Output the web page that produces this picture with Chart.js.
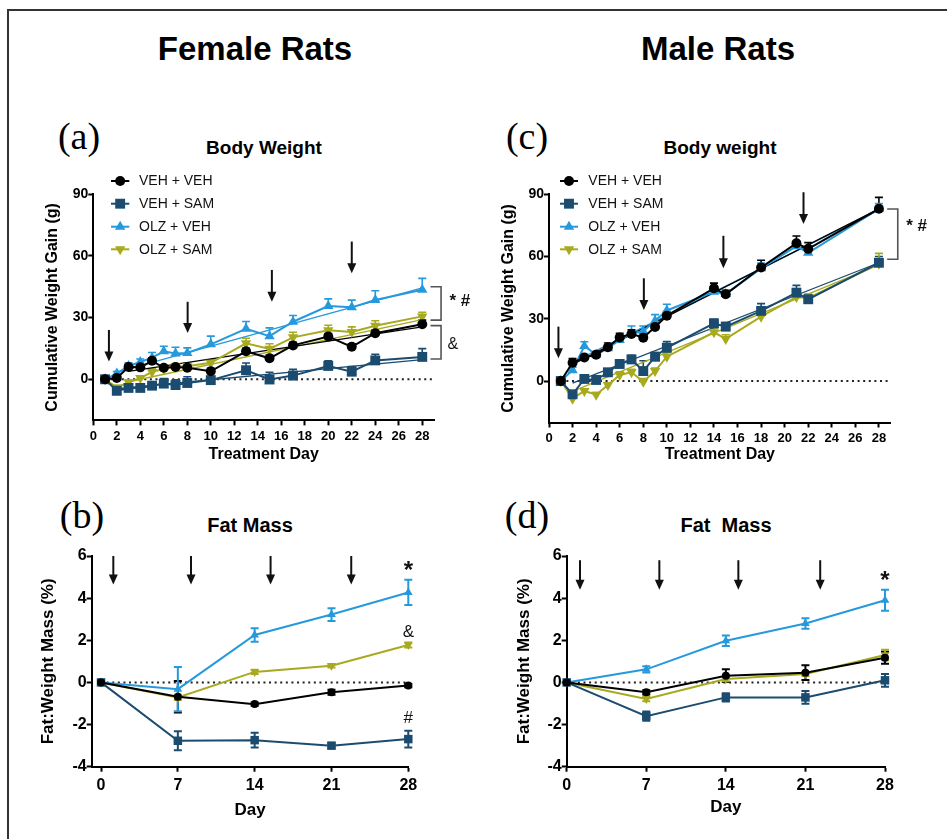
<!DOCTYPE html>
<html><head><meta charset="utf-8">
<script src="https://cdn.jsdelivr.net/npm/chart.js@4.4.1/dist/chart.umd.min.js"></script>
<style>
html,body{margin:0;padding:0;background:#fff;}
#wrap{position:relative;width:947px;height:839px;overflow:hidden;background:#fff;font-family:Arial,"Liberation Sans",sans-serif;}
canvas{position:absolute;left:0;top:0;}
.t{position:absolute;white-space:pre;transform:translate(-50%,-50%);color:#000;line-height:1;}
.h{font-weight:bold;font-size:33px;}
.p{font-family:"Liberation Serif","Times New Roman",serif;font-size:38px;}
.s{font-weight:bold;font-size:19px;}
</style></head>
<body><div id="wrap">
<div style="position:absolute;left:7px;top:9px;width:1000px;height:900px;border-left:2px solid #333;border-top:2px solid #333;"></div>
<div class="t h" style="left:255px;top:48px;">Female Rats</div>
<div class="t h" style="left:718px;top:48px;">Male Rats</div>
<div class="t p" style="left:79px;top:136px;">(a)</div>
<div class="t p" style="left:527px;top:136px;">(c)</div>
<div class="t p" style="left:82px;top:515px;">(b)</div>
<div class="t p" style="left:527px;top:515px;">(d)</div>
<div class="t s" style="left:264px;top:147px;">Body Weight</div>
<div class="t s" style="left:720px;top:147px;">Body weight</div>
<div class="t s" style="left:250px;top:525px;font-size:20px;">Fat Mass</div>
<div class="t s" style="left:726px;top:525px;font-size:20px;">Fat  Mass</div>
<canvas id="ca" width="947" height="839"></canvas>
<canvas id="cc" width="947" height="839"></canvas>
<canvas id="cb" width="947" height="839"></canvas>
<canvas id="cd" width="947" height="839"></canvas>
</div>
<script>
// ---------- DATA ----------
const seriesNames = ['VEH + VEH', 'VEH + SAM', 'OLZ + VEH', 'OLZ + SAM'];

// Female body weight (panel a)
const femaleWeightDays = [1, 2, 3, 4, 5, 6, 7, 8, 10, 13, 15, 17, 20, 22, 24, 28];
const femaleVehVeh = [0, 0.6, 6, 5.8, 9, 5.6, 6, 5.6, 3.9, 13.6, 10.2, 16.5, 20.8, 15.8, 22.4, 26.8];
const femaleVehSam = [0, -5.6, -4.2, -4.2, -3.1, -2.1, -2.8, -1.8, -0.4, 4.4, -0.1, 1.8, 6.5, 3.7, 9.2, 10.9];
const femaleOlzVeh = [0, 2.8, 6.5, 8.4, 10.5, 13.6, 12.6, 12.8, 17, 24.6, 21, 28, 35.6, 35, 38.6, 43.6];
const femaleOlzSam = [0, -4, -1.5, 0.6, 3.6, 5, 6.2, 6.4, 8, 17.5, 14.8, 20.4, 23.8, 23, 26, 30.6];
const femaleVehVehErr = [0, 1, 1.2, 1.2, 1.2, 1, 1, 1, 1.5, 1.5, 1.5, 1.5, 1.5, 1.5, 1.5, 2];
const femaleVehSamErr = [0, 1, 1, 1, 1.5, 2.5, 2.5, 3, 1.5, 3.5, 3.5, 3, 2.5, 2.5, 3, 4];
const femaleOlzVehErr = [0, 1, 1.5, 1.5, 2.5, 2.5, 3, 2.5, 4, 3.5, 4, 3, 3.5, 3.5, 4.5, 5.5];
const femaleOlzSamErr = [0, 1, 1, 1, 1.5, 1.5, 1.5, 1.5, 1.5, 2.5, 2.5, 2.5, 2.5, 2.5, 2.5, 2];
const femaleFitVehVeh = [[3, 3.8], [28, 25.5]];
const femaleFitVehSam = [[2, -4.6], [28, 9.6]];
const femaleFitOlzVeh = [[2, 3.5], [28, 44.5]];
const femaleFitOlzSam = [[3, -1.2], [28, 29]];

// Male body weight (panel c)
const maleWeightDays = [1, 2, 3, 4, 5, 6, 7, 8, 9, 10, 14, 15, 18, 21, 22, 28];
const maleVehVeh = [0, 8.8, 11.3, 12.7, 16.3, 21, 22.7, 20.9, 26, 31.5, 44.7, 41.8, 54.7, 66.4, 63.7, 83];
const maleVehSam = [0, -6.4, 1, 0.5, 4.2, 8.2, 10.4, 4.8, 11.7, 16, 27.8, 26.2, 33.8, 42.6, 39.4, 57];
const maleOlzVeh = [0, 5.2, 16.9, 12.6, 15.8, 19.8, 23, 24, 29, 34, 43, 42, 54.3, 65, 61.8, 83];
const maleOlzSam = [0, -8.5, -4.8, -6.6, -1.9, 2.9, 4.2, -0.3, 4.8, 11.7, 23.5, 20.3, 31, 40.5, 40, 56.5];
const maleVehVehErr = [0, 2, 1.5, 1.5, 2, 2, 2, 2, 2, 2, 2.5, 2, 3.5, 3.5, 3, 5.5];
const maleVehSamErr = [0, 1.5, 1.5, 1.5, 1.5, 2, 2, 5, 2, 3, 2, 2, 3.5, 3.5, 2, 3];
const maleOlzVehErr = [0, 1.5, 2, 1.5, 2, 2.5, 3.5, 2.5, 3, 3, 2, 2, 2.5, 2.5, 2.5, 2.5];
const maleOlzSamErr = [0, 1, 1, 1, 1, 1.5, 1.5, 1.5, 1.5, 2, 2, 2, 2, 2, 2, 5];
const maleFitVehVeh = [[2, 8], [28, 83]];
const maleFitVehSam = [[2, -1], [28, 57]];
const maleFitOlzVeh = [[2, 9], [28, 82.5]];
const maleFitOlzSam = [[2, -5], [28, 56]];

// Fat mass (panels b, d)
const fatDays = [0, 7, 14, 21, 28];
const femaleFatVehVeh = [0, -0.68, -1.03, -0.47, -0.15];
const femaleFatVehSam = [0, -2.77, -2.74, -3.0, -2.69];
const femaleFatOlzVeh = [0, -0.32, 2.25, 3.22, 4.27];
const femaleFatOlzSam = [0, -0.71, 0.5, 0.79, 1.78];
const femaleFatVehVehErr = [0, 0.75, 0.08, 0.12, 0.08];
const femaleFatVehSamErr = [0, 0.45, 0.35, 0.12, 0.4];
const femaleFatOlzVehErr = [0, 1.05, 0.32, 0.3, 0.6];
const femaleFatOlzSamErr = [0, 0.12, 0.1, 0.08, 0.12];
const maleFatVehVeh = [0, -0.47, 0.32, 0.46, 1.17];
const maleFatVehSam = [0, -1.6, -0.71, -0.71, 0.1];
const maleFatOlzVeh = [0, 0.62, 1.98, 2.8, 3.9];
const maleFatOlzSam = [0, -0.79, 0.16, 0.4, 1.3];
const maleFatVehVehErr = [0, 0.1, 0.3, 0.35, 0.28];
const maleFatVehSamErr = [0, 0.22, 0.2, 0.3, 0.3];
const maleFatOlzVehErr = [0, 0.15, 0.25, 0.25, 0.5];
const maleFatOlzSamErr = [0, 0.1, 0.1, 0.1, 0.25];

// Tick labels
const weightXTicks = [0, 2, 4, 6, 8, 10, 12, 14, 16, 18, 20, 22, 24, 26, 28];
const weightYTicks = [0, 30, 60, 90];
const fatXTicks = [0, 7, 14, 21, 28];
const fatYTicks = [-4, -2, 0, 2, 4, 6];

// Treatment arrows (day, top value, tip value)
const femaleWeightArrowDays = [1.33, 8.03, 15.2, 22.0];
const femaleWeightArrowTops = [24, 37.7, 53.2, 67];
const femaleWeightArrowTips = [8.6, 22.5, 37.7, 51.6];
const maleWeightArrowDays = [0.8, 8.05, 14.8, 21.6];
const maleWeightArrowTops = [26.2, 49.5, 70, 91];
const maleWeightArrowTips = [11, 34.2, 54.4, 75.7];
const femaleFatArrowDays = [1.12, 8.2, 15.45, 22.8];
const femaleFatArrowTops = [6.0, 6.0, 6.0, 6.0];
const femaleFatArrowTips = [4.65, 4.65, 4.65, 4.65];
const maleFatArrowDays = [1.17, 8.15, 15.1, 22.3];
const maleFatArrowTops = [5.8, 5.8, 5.8, 5.8];
const maleFatArrowTips = [4.4, 4.4, 4.4, 4.4];

// ---------- STYLE ----------
const colors = ['#000000', '#1b4c70', '#2699dc', '#a8aa1e'];
const pointStyles = ['circle', 'rect', 'triangle', 'triangle'];
const pointRotations = [0, 0, 0, 180];
const FONT = 'Arial, "Liberation Sans", sans-serif';

function drawMarker(ctx, i, x, y, r) {
  ctx.save();
  ctx.fillStyle = colors[i];
  ctx.beginPath();
  const st = pointStyles[i];
  if (st === 'circle') ctx.arc(x, y, r, 0, Math.PI * 2);
  else if (st === 'rect') { const s = Math.SQRT1_2 * r; ctx.rect(x - s, y - s, 2 * s, 2 * s); }
  else {
    let a = pointRotations[i] * Math.PI / 180;
    for (let k = 0; k < 3; k++) {
      const px = x + Math.sin(a) * r, py = y - Math.cos(a) * r;
      if (k) ctx.lineTo(px, py); else ctx.moveTo(px, py);
      a += 2 * Math.PI / 3;
    }
    ctx.closePath();
  }
  ctx.fill();
  ctx.restore();
}

function overlayPlugin(p) {
  return {
    id: 'overlay_' + p.id,
    beforeDatasetsDraw(chart) {
      const ctx = chart.ctx, xs = chart.scales.x, ys = chart.scales.y;
      ctx.save();
      ctx.setLineDash([2, 3.6]);
      ctx.lineWidth = 2;
      ctx.strokeStyle = '#222';
      ctx.beginPath();
      ctx.moveTo(xs.getPixelForValue(p.zeroFrom), ys.getPixelForValue(0));
      ctx.lineTo(xs.getPixelForValue(p.zeroTo), ys.getPixelForValue(0));
      ctx.stroke();
      ctx.restore();
      chart.data.datasets.forEach(ds => {
        if (!ds.errs) return;
        ctx.save();
        ctx.strokeStyle = ds.borderColor;
        ctx.lineWidth = p.errWidth;
        ds.data.forEach((pt, j) => {
          const e = ds.errs[j];
          if (!e) return;
          const x = xs.getPixelForValue(pt.x);
          const yt = ys.getPixelForValue(pt.y + e);
          const yb = ys.getPixelForValue(p.twoSided ? pt.y - e : pt.y);
          ctx.beginPath();
          ctx.moveTo(x, yt); ctx.lineTo(x, yb);
          ctx.moveTo(x - p.cap, yt); ctx.lineTo(x + p.cap, yt);
          if (p.twoSided) { ctx.moveTo(x - p.cap, yb); ctx.lineTo(x + p.cap, yb); }
          ctx.stroke();
        });
        ctx.restore();
      });
    },
    afterDraw(chart) {
      const ctx = chart.ctx, xs = chart.scales.x, ys = chart.scales.y;
      ctx.save();
      ctx.strokeStyle = '#111'; ctx.fillStyle = '#111'; ctx.lineWidth = 2;
      p.arrowDays.forEach((d, k) => {
        const x = xs.getPixelForValue(d);
        const y0 = ys.getPixelForValue(p.arrowTops[k]);
        const y1 = ys.getPixelForValue(p.arrowTips[k]);
        ctx.beginPath(); ctx.moveTo(x, y0); ctx.lineTo(x, y1 - 8); ctx.stroke();
        ctx.beginPath(); ctx.moveTo(x - 4.5, y1 - 10); ctx.lineTo(x + 4.5, y1 - 10); ctx.lineTo(x, y1); ctx.closePath(); ctx.fill();
      });
      ctx.restore();
      (p.brackets || []).forEach(b => {
        ctx.save();
        ctx.strokeStyle = '#555'; ctx.lineWidth = 1.6;
        const x0 = xs.getPixelForValue(b.x0), x1 = xs.getPixelForValue(b.x1);
        const yt = ys.getPixelForValue(b.top), yb = ys.getPixelForValue(b.bottom);
        ctx.beginPath();
        ctx.moveTo(x0, yt); ctx.lineTo(x1, yt); ctx.lineTo(x1, yb); ctx.lineTo(x0, yb);
        ctx.stroke();
        ctx.restore();
      });
      (p.marks || []).forEach(m => {
        ctx.save();
        ctx.fillStyle = '#111';
        ctx.font = (m.bold ? 'bold ' : '') + m.size + 'px ' + FONT;
        ctx.textAlign = 'center'; ctx.textBaseline = 'middle';
        ctx.fillText(m.text, xs.getPixelForValue(m.x), ys.getPixelForValue(m.y));
        ctx.restore();
      });
      if (p.legend) {
        const L = p.legend;
        seriesNames.forEach((name, i) => {
          const y = L.rows[i];
          ctx.save();
          ctx.strokeStyle = colors[i]; ctx.lineWidth = 2;
          ctx.beginPath(); ctx.moveTo(L.x0, y); ctx.lineTo(L.x1, y); ctx.stroke();
          ctx.restore();
          drawMarker(ctx, i, (L.x0 + L.x1) / 2, y, [5, 7, 6, 6][i]);
          ctx.save();
          ctx.fillStyle = '#111';
          ctx.font = '14px ' + FONT;
          ctx.textAlign = 'left'; ctx.textBaseline = 'middle';
          ctx.fillText(name, L.tx, y + 0.5);
          ctx.restore();
        });
      }
    }
  };
}

function makePanel(canvasId, p) {
  const datasets = [];
  p.series.forEach((s, i) => {
    datasets.push({
      label: seriesNames[i],
      data: p.days.map((d, j) => ({ x: d, y: s[j] })),
      errs: p.errs[i],
      borderColor: colors[i],
      backgroundColor: colors[i],
      borderWidth: 2,
      pointStyle: pointStyles[i],
      pointRotation: pointRotations[i],
      pointRadius: p.radii[i],
      pointBorderWidth: 0,
      pointBackgroundColor: colors[i],
      tension: 0,
      clip: false,
      order: i
    });
  });
  (p.fits || []).forEach((f, i) => {
    datasets.push({
      label: 'fit ' + seriesNames[i],
      data: f.map(v => ({ x: v[0], y: v[1] })),
      borderColor: colors[i],
      borderWidth: 1.3,
      pointRadius: 0,
      tension: 0,
      clip: false,
      order: 10 + i
    });
  });
  const W = 947, H = 839;
  const A = p.area;
  new Chart(document.getElementById(canvasId), {
    type: 'line',
    data: { datasets },
    plugins: [overlayPlugin(p)],
    options: {
      responsive: false,
      animation: false,
      events: [],
      devicePixelRatio: 1,
      layout: { padding: { left: A.L - p.Wy, right: W - A.R, top: A.T, bottom: H - A.B - p.Hx } },
      plugins: { legend: { display: false }, tooltip: { enabled: false }, title: { display: false } },
      scales: {
        x: {
          type: 'linear', min: p.xmin, max: p.xmax,
          afterBuildTicks: s => { s.ticks = p.xticks.map(v => ({ value: v })); },
          afterFit: s => { s.height = p.Hx; },
          grid: { display: true, drawOnChartArea: false, drawTicks: true, tickLength: 5, tickWidth: 2, tickColor: '#000', color: '#000' },
          border: { display: true, color: '#000', width: 2 },
          ticks: { color: '#000', autoSkip: false, maxRotation: 0, padding: p.xTickPad, font: { family: FONT, size: p.xTickSize, weight: 'bold' }, callback: v => String(v) },
          title: { display: true, text: p.xTitle, color: '#000', padding: 0, font: { family: FONT, size: p.titleSize, weight: 'bold' } }
        },
        y: {
          type: 'linear', min: p.ymin, max: p.ymax,
          afterBuildTicks: s => { s.ticks = p.yticks.map(v => ({ value: v })); },
          afterFit: s => { s.width = p.Wy; },
          grid: { display: true, drawOnChartArea: false, drawTicks: true, tickLength: 5, tickWidth: 2, tickColor: '#000', color: '#000' },
          border: { display: true, color: '#000', width: 2 },
          ticks: { color: '#000', autoSkip: false, padding: 0, font: { family: FONT, size: p.yTickSize, weight: 'bold' }, callback: v => String(v) },
          title: { display: true, text: p.yTitle, color: '#000', padding: 0, font: { family: FONT, size: p.titleSize, weight: 'bold' } }
        }
      }
    }
  });
}

makePanel('ca', {
  id: 'a',
  days: femaleWeightDays,
  series: [femaleVehVeh, femaleVehSam, femaleOlzVeh, femaleOlzSam],
  errs: [femaleVehVehErr, femaleVehSamErr, femaleOlzVehErr, femaleOlzSamErr],
  fits: [femaleFitVehVeh, femaleFitVehSam, femaleFitOlzVeh, femaleFitOlzSam],
  twoSided: false, errWidth: 1.6, cap: 4,
  radii: [5, 7, 6, 6],
  area: { L: 93.3, R: 434, T: 194.3, B: 420.4 }, Wy: 49.9, Hx: 44.2,
  xmin: 0, xmax: 29, ymin: -20, ymax: 90,
  xticks: weightXTicks, yticks: weightYTicks,
  xTickSize: 13, yTickSize: 14, xTickPad: 3, titleSize: 16,
  xTitle: 'Treatment Day', yTitle: 'Cumulative Weight Gain (g)',
  zeroFrom: 1, zeroTo: 29,
  arrowDays: femaleWeightArrowDays, arrowTops: femaleWeightArrowTops, arrowTips: femaleWeightArrowTips,
  brackets: [{ x0: 28.7, x1: 29.6, top: 45, bottom: 28.8 }, { x0: 28.7, x1: 29.6, top: 26.1, bottom: 9.9 }],
  marks: [{ text: '* #', x: 31.2, y: 37.7, size: 17, bold: true }, { text: '&', x: 30.6, y: 16.7, size: 16 }],
  legend: { x0: 111, x1: 129.3, tx: 139, rows: [181, 203.7, 226.7, 249.3] }
});

makePanel('cc', {
  id: 'c',
  days: maleWeightDays,
  series: [maleVehVeh, maleVehSam, maleOlzVeh, maleOlzSam],
  errs: [maleVehVehErr, maleVehSamErr, maleOlzVehErr, maleOlzSamErr],
  fits: [maleFitVehVeh, maleFitVehSam, maleFitOlzVeh, maleFitOlzSam],
  twoSided: false, errWidth: 1.6, cap: 4,
  radii: [5, 7, 6, 6],
  area: { L: 549, R: 890.7, T: 194.3, B: 422.5 }, Wy: 50.3, Hx: 42.1,
  xmin: 0, xmax: 29, ymin: -20, ymax: 90,
  xticks: weightXTicks, yticks: weightYTicks,
  xTickSize: 13, yTickSize: 14, xTickPad: 3, titleSize: 16,
  xTitle: 'Treatment Day', yTitle: 'Cumulative Weight Gain (g)',
  zeroFrom: 1, zeroTo: 29,
  arrowDays: maleWeightArrowDays, arrowTops: maleWeightArrowTops, arrowTips: maleWeightArrowTips,
  brackets: [{ x0: 28.7, x1: 29.6, top: 82.9, bottom: 58.7 }],
  marks: [{ text: '* #', x: 31.2, y: 74.4, size: 17, bold: true }],
  legend: { x0: 560, x1: 578, tx: 588.3, rows: [181, 203.7, 226.7, 249.3] }
});

makePanel('cb', {
  id: 'b',
  days: fatDays,
  series: [femaleFatVehVeh, femaleFatVehSam, femaleFatOlzVeh, femaleFatOlzSam],
  errs: [femaleFatVehVehErr, femaleFatVehSamErr, femaleFatOlzVehErr, femaleFatOlzSamErr],
  twoSided: true, errWidth: 2, cap: 4,
  radii: [4, 6, 5, 5],
  area: { L: 91.7, R: 408.3, T: 556, B: 766.7 }, Wy: 53.6, Hx: 53.5,
  xmin: -0.85, xmax: 28, ymin: -4, ymax: 6,
  xticks: fatXTicks, yticks: fatYTicks,
  xTickSize: 16, yTickSize: 16, xTickPad: 4, titleSize: 17,
  xTitle: 'Day', yTitle: 'Fat:Weight Mass (%)',
  zeroFrom: 0, zeroTo: 28,
  arrowDays: femaleFatArrowDays, arrowTops: femaleFatArrowTops, arrowTips: femaleFatArrowTips,
  marks: [{ text: '*', x: 28, y: 5.25, size: 24, bold: true }, { text: '&', x: 28, y: 2.4, size: 17 }, { text: '#', x: 28, y: -1.7, size: 17 }]
});

makePanel('cd', {
  id: 'd',
  days: fatDays,
  series: [maleFatVehVeh, maleFatVehSam, maleFatOlzVeh, maleFatOlzSam],
  errs: [maleFatVehVehErr, maleFatVehSamErr, maleFatOlzVehErr, maleFatOlzSamErr],
  twoSided: true, errWidth: 2, cap: 4,
  radii: [4, 6, 5, 5],
  area: { L: 566.7, R: 885, T: 556, B: 766.7 }, Wy: 52.7, Hx: 51,
  xmin: 0, xmax: 28, ymin: -4, ymax: 6,
  xticks: fatXTicks, yticks: fatYTicks,
  xTickSize: 16, yTickSize: 16, xTickPad: 4, titleSize: 17,
  xTitle: 'Day', yTitle: 'Fat:Weight Mass (%)',
  zeroFrom: 0, zeroTo: 28,
  arrowDays: maleFatArrowDays, arrowTops: maleFatArrowTops, arrowTips: maleFatArrowTips,
  marks: [{ text: '*', x: 28, y: 4.8, size: 24, bold: true }]
});
</script>
</body></html>
